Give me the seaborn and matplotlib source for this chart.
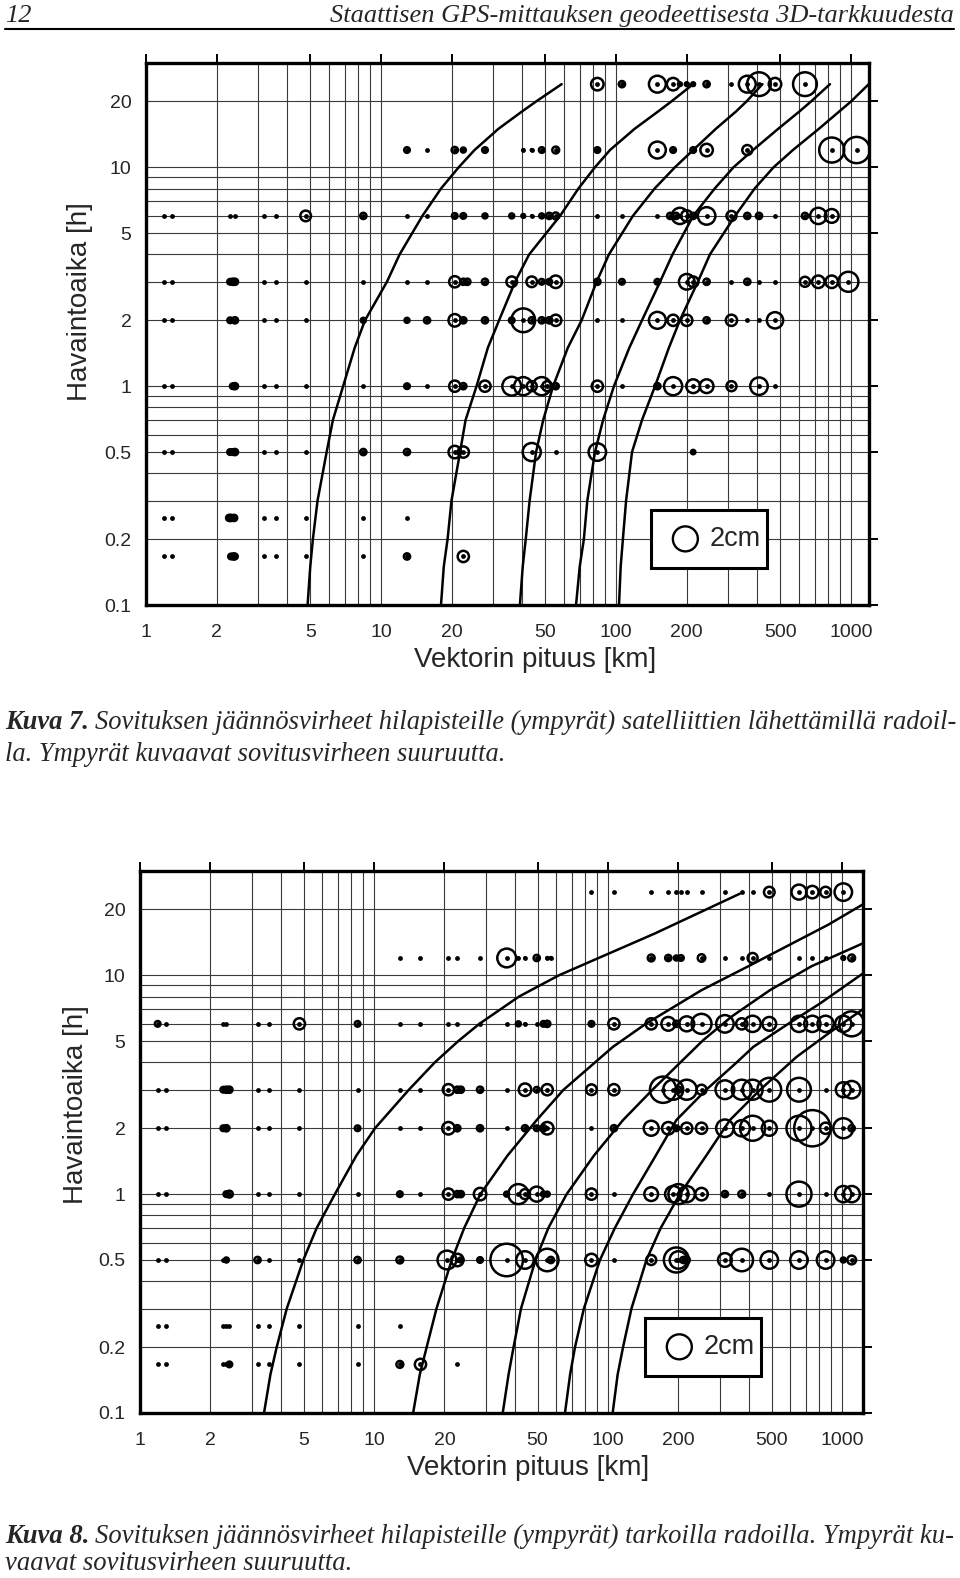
import numpy as np
import pandas as pd
import matplotlib
matplotlib.use("Agg")
import matplotlib.pyplot as plt
import matplotlib.ticker as mticker
from matplotlib.patches import Rectangle
from matplotlib.lines import Line2D
import seaborn as sns

# ---------------------------------------------------------
# Data: (vector length km, residual cm) per observation-time row
# ---------------------------------------------------------
row_times = [24, 12, 6, 3, 2, 1, 0.5, 0.25, 1 / 6]

# Kuva 7 (broadcast orbits)
k7_24h = [(83.3, 1.0), (106, 0.5), (150, 1.35), (175, 1.0), (187, 0.3), (200, 0.3), (213, 0.3),
          (243, 0.5), (310, 0.0), (362, 1.35), (406, 1.9), (475, 1.0), (637, 1.9)]
k7_12h = [(12.9, 0.45), (15.7, 0), (20.6, 0.5), (22.4, 0.4), (27.7, 0.45), (40.3, 0.15), (43.8, 0.15),
          (48.3, 0.45), (55.4, 0.55), (83.3, 0.45), (150, 1.35), (175, 0.45), (213, 0.45), (243, 1.0),
          (362, 0.8), (828, 2.0), (1057, 2.1)]
k7_6h = [(1.19, 0), (1.29, 0), (2.28, 0), (2.39, 0), (3.18, 0), (3.57, 0), (4.78, 0.85), (8.41, 0.5),
         (12.9, 0), (15.7, 0), (20.6, 0.45), (22.4, 0.45), (27.7, 0.4), (36, 0.4), (40.3, 0.3),
         (43.8, 0.1), (48.3, 0.4), (52, 0.5), (55.4, 0.55), (83.3, 0), (106, 0), (150, 0), (170, 0.5),
         (180, 0.5), (187, 1.3), (200, 0.9), (213, 0.5), (243, 1.4), (310, 0.8), (362, 0.5),
         (406, 0.5), (475, 0), (637, 0.5), (726, 1.3), (828, 1.1)]
k7_3h = [(1.19, 0), (1.29, 0), (2.28, 0.45), (2.34, 0.5), (2.39, 0.5), (3.18, 0), (3.57, 0), (4.78, 0),
         (8.41, 0), (12.9, 0), (15.7, 0), (20.6, 0.9), (22.4, 0.5), (23.3, 0.5), (27.7, 0.5), (36, 0.85),
         (43.8, 0.85), (48.3, 0.45), (52, 0.45), (55.4, 1.0), (83.3, 0.5), (106, 0.45), (150, 0.45),
         (200, 1.25), (213, 0.85), (243, 0.5), (310, 0), (362, 0.5), (406, 0), (475, 0), (637, 0.8),
         (726, 1.0), (828, 1.0), (975, 1.6)]
k7_2h = [(1.19, 0), (1.29, 0), (2.28, 0.45), (2.39, 0.5), (3.18, 0), (3.57, 0), (4.78, 0), (8.41, 0.4),
         (12.9, 0.4), (15.7, 0.5), (20.6, 1.0), (22.4, 0.5), (27.7, 0.5), (36, 0.45), (40.3, 1.9),
         (43.8, 0.5), (48.3, 0.5), (52, 0.5), (55.4, 0.9), (83.3, 0), (106, 0), (150, 1.35), (175, 0.9),
         (200, 0.9), (243, 0.5), (310, 0.9), (362, 0), (406, 0), (475, 1.3)]
k7_1h = [(1.19, 0), (1.29, 0), (2.34, 0.45), (2.39, 0.5), (3.18, 0), (3.57, 0), (4.78, 0), (8.41, 0),
         (12.9, 0.45), (15.7, 0), (20.6, 0.9), (22.4, 0.5), (27.7, 0.9), (36, 1.5), (40.3, 1.45),
         (43.8, 0.8), (48.3, 1.45), (51, 0.8), (55.4, 0.5), (83.3, 0.9), (106, 0), (150, 0.5),
         (175, 1.45), (213, 1.1), (243, 1.1), (310, 0.8), (406, 1.4), (475, 0)]
k7_05h = [(1.19, 0), (1.29, 0), (2.28, 0.45), (2.34, 0.45), (2.39, 0.5), (3.18, 0), (3.57, 0), (4.78, 0),
          (8.41, 0.5), (12.9, 0.5), (20.6, 1.0), (22.4, 0.9), (43.8, 1.45), (55.4, 0), (83.3, 1.4),
          (213, 0.35)]
k7_025h = [(1.19, 0), (1.29, 0), (2.26, 0.5), (2.3, 0.5), (2.37, 0.5), (3.18, 0), (3.57, 0), (4.78, 0),
           (8.41, 0), (12.9, 0)]
k7_10min = [(1.19, 0), (1.29, 0), (2.3, 0.45), (2.36, 0.5), (2.39, 0.45), (3.18, 0), (3.57, 0),
            (4.78, 0), (8.41, 0), (12.9, 0.5), (22.4, 0.9)]

# Kuva 8 (precise orbits)
k8_24h = [(85, 0), (106, 0), (153, 0), (181, 0), (196, 0), (205, 0), (217, 0), (251, 0), (316, 0),
          (373, 0), (415, 0), (489, 0.85), (655, 1.2), (747, 1.0), (851, 0.85), (1013, 1.4)]
k8_12h = [(12.9, 0), (15.8, 0), (20.8, 0), (22.7, 0), (28.4, 0), (36.9, 1.5), (41.4, 0.1), (44.2, 0.1),
          (49.6, 0.5), (55, 0.15), (57, 0.15), (153, 0.55), (181, 0.5), (196, 0.4), (205, 0.45),
          (251, 0.6), (316, 0), (373, 0), (415, 0.8), (489, 0), (655, 0), (747, 0), (851, 0),
          (1013, 0.3), (1100, 0.55)]
k8_6h = [(1.19, 0.45), (1.29, 0), (2.27, 0), (2.34, 0), (3.18, 0), (3.57, 0), (4.8, 0.9), (8.51, 0.45),
         (12.9, 0), (15.8, 0), (20.8, 0), (22.7, 0), (28.4, 0), (36.9, 0), (41.4, 0.4), (44.2, 0.1),
         (49.6, 0), (53, 0.45), (55, 0.5), (85, 0.45), (106, 0.9), (153, 0.9), (181, 1.1), (196, 0.5),
         (217, 1.2), (251, 1.6), (316, 1.4), (373, 0.9), (415, 1.3), (489, 1.1), (655, 1.3),
         (747, 1.3), (851, 1.3), (1013, 1.3), (1100, 2.0)]
k8_3h = [(1.19, 0), (1.29, 0), (2.27, 0.45), (2.34, 0.5), (2.41, 0.5), (3.18, 0), (3.57, 0), (4.8, 0),
         (8.51, 0), (12.9, 0), (15.8, 0), (20.8, 0.9), (22.7, 0.5), (23.5, 0.5), (28.4, 0.5), (36.9, 0),
         (44.2, 1.0), (49.6, 0.45), (55, 0.9), (85, 0.85), (106, 0.9), (172, 2.1), (190, 1.6),
         (200, 0.5), (217, 1.6), (251, 0.8), (316, 1.5), (373, 1.6), (415, 1.6), (489, 1.9),
         (655, 1.9), (851, 0), (1013, 1.2), (1100, 1.4)]
k8_2h = [(1.19, 0), (1.29, 0), (2.27, 0.45), (2.34, 0.5), (3.18, 0), (3.57, 0), (4.8, 0), (8.51, 0.45),
         (12.9, 0), (15.8, 0), (20.8, 1.0), (22.7, 0.5), (28.4, 0.5), (36.9, 0), (44.2, 0.5),
         (49.6, 0.45), (53, 0.5), (55, 1.0), (85, 0), (106, 0.5), (153, 1.2), (181, 1.0), (196, 0.45),
         (217, 0.9), (251, 0.9), (316, 1.4), (373, 1.3), (415, 2.0), (489, 1.2), (655, 2.0),
         (747, 2.9), (851, 0.9), (1013, 1.6), (1100, 0.5)]
k8_1h = [(1.19, 0), (1.29, 0), (2.34, 0.45), (2.41, 0.55), (3.18, 0), (3.57, 0), (4.8, 0), (8.51, 0),
         (12.9, 0.45), (15.8, 0), (20.8, 0.9), (22.7, 0.5), (23.5, 0.5), (28.4, 1.0), (36.9, 0.4),
         (41.4, 1.6), (44.2, 0.8), (49.6, 1.2), (53, 0.4), (55, 0.4), (85, 0.9), (106, 0), (153, 1.1),
         (190, 1.3), (200, 1.6), (217, 1.3), (251, 1.0), (316, 0.5), (373, 0.55), (489, 0),
         (655, 2.0), (851, 0), (1013, 1.3), (1100, 1.3)]
k8_05h = [(1.19, 0), (1.29, 0), (2.27, 0), (2.34, 0.4), (3.18, 0.5), (3.57, 0), (4.8, 0), (8.51, 0.5),
          (12.9, 0.55), (20.5, 1.5), (22.7, 1.0), (23.5, 0.4), (28.4, 0.45), (36.9, 2.6), (44.2, 1.4),
          (55, 1.8), (57, 0.5), (85, 1.0), (106, 0), (153, 0.8), (196, 2.0), (200, 1.4), (210, 0.5),
          (217, 0.5), (316, 1.1), (373, 1.8), (489, 1.4), (655, 1.4), (851, 1.4), (1013, 0.4),
          (1100, 0.7)]
k8_025h = [(1.19, 0), (1.29, 0), (2.27, 0), (2.34, 0), (2.41, 0), (3.18, 0), (3.57, 0), (4.8, 0),
           (8.51, 0), (12.9, 0)]
k8_10min = [(1.19, 0), (1.29, 0), (2.27, 0), (2.34, 0), (2.41, 0.45), (3.18, 0), (3.57, 0), (4.8, 0),
            (8.51, 0), (12.9, 0.55), (15.8, 0.9), (22.7, 0)]

k7_curve_t = [0.1, 0.15, 0.2, 0.3, 0.5, 0.7, 1, 1.5, 2, 3, 4, 6, 8, 10, 12, 15, 18, 20, 24]
k7_curve_a = [4.87, 5.0, 5.13, 5.37, 5.87, 6.24, 6.9, 7.73, 8.55, 10.6, 12.0, 15.0, 18.0, 21.4,
              25.0, 31.6, 39.8, 45.7, 58.7]
k7_curve_b = [18.0, 18.5, 19.2, 19.95, 21.7, 22.9, 25.5, 28.5, 31.8, 37.2, 42.7, 57.8, 69.2, 81.3,
              94.3, 120, 151, 172, 213]
k7_curve_c = [39, 40.1, 41.3, 42.9, 45.7, 49, 54, 62.4, 71.4, 82.7, 93.3, 118, 146, 178, 213, 266,
              324, 359, 420]
k7_curve_d = [67.6, 70.1, 73, 75.5, 81.4, 88.1, 98, 114, 129, 154, 174, 213, 263, 316, 383, 490,
              603, 676, 814]
k7_curve_e = [103, 104.7, 107, 110.4, 117, 129, 146.6, 168, 187, 223, 251, 321, 389, 468, 566, 730,
              891, 1000, 1190]

k8_curve_a_t = [0.1, 0.15, 0.2, 0.3, 0.5, 0.7, 1, 1.5, 2, 3, 4, 5, 6, 8, 10, 12, 15.5, 20, 23.6]
k8_curve_a = [3.39, 3.61, 3.84, 4.24, 4.99, 5.69, 6.81, 8.41, 10.1, 14.1, 18.2, 22.9, 28.2, 41.7,
              61.7, 91.2, 158, 263, 366]
k8_curve_b_t = [0.1, 0.15, 0.2, 0.3, 0.5, 0.7, 1, 1.5, 2.18, 3, 4.71, 6, 8.55, 11, 13.5, 17, 21.1]
k8_curve_b = [14.7, 15.7, 16.8, 18.5, 21.5, 24.3, 28.5, 37.2, 49.6, 64.6, 105, 145, 251, 398, 575,
              871, 1229]
k8_curve_c_t = [0.1, 0.15, 0.2, 0.3, 0.5, 0.7, 1, 1.5, 2.18, 3, 4, 5.05, 6.5, 8.55, 11, 14.0]
k8_curve_c = [35.5, 37.6, 39.5, 42.5, 49.0, 55.6, 66.6, 87.1, 116, 155, 204, 255, 339, 492, 741, 1229]
k8_curve_d_t = [0.1, 0.15, 0.2, 0.3, 0.5, 0.7, 1, 1.5, 2.18, 3, 4, 4.71, 6, 7.43, 10.2]
k8_curve_d = [65.5, 68.9, 72.3, 78.9, 92.4, 107, 128, 160, 196, 263, 355, 418, 589, 805, 1229]
k8_curve_e_t = [0.1, 0.15, 0.2, 0.3, 0.5, 0.7, 1, 1.5, 2.18, 3, 4.24, 5.5, 7.0]
k8_curve_e = [104.7, 110, 116, 126, 146, 168, 203, 263, 332, 447, 640, 891, 1229]

x_ticks = [1, 2, 5, 10, 20, 50, 100, 200, 500, 1000]
x_ticklabels = ["1", "2", "5", "10", "20", "50", "100", "200", "500", "1000"]
y_ticks = [0.1, 0.2, 0.5, 1, 2, 5, 10, 20]
y_ticklabels = ["0.1", "0.2", "0.5", "1", "2", "5", "10", "20"]

CM_TO_S = 81.0   # marker area per cm^2 (2 cm ring = legend ring)


def rows_to_frame(rows):
    recs = []
    for t, pts in zip(row_times, rows):
        for length, res in pts:
            recs.append((length, t, res))
    df = pd.DataFrame(recs, columns=["pituus", "aika", "virhe"])
    df["ala"] = CM_TO_S * df["virhe"] ** 2
    return df


def draw_panel(ax, df, curves, xmax):
    ax.set_xscale("log")
    ax.set_yscale("log")
    ax.set_xlim(1, xmax)
    ax.set_ylim(0.1, 30)

    ax.xaxis.set_major_locator(mticker.FixedLocator(x_ticks))
    ax.xaxis.set_major_formatter(mticker.FixedFormatter(x_ticklabels))
    ax.xaxis.set_minor_locator(mticker.LogLocator(base=10, subs=np.arange(1, 10), numticks=30))
    ax.xaxis.set_minor_formatter(mticker.NullFormatter())
    ax.yaxis.set_major_locator(mticker.FixedLocator(y_ticks))
    ax.yaxis.set_major_formatter(mticker.FixedFormatter(y_ticklabels))
    ax.yaxis.set_minor_locator(mticker.LogLocator(base=10, subs=np.arange(1, 10), numticks=30))
    ax.yaxis.set_minor_formatter(mticker.NullFormatter())

    ax.set_axisbelow(True)
    ax.grid(which="both", color="#3a3a3a", linewidth=0.8)
    ax.tick_params(which="major", direction="out", length=6.5, width=1.4, color="black",
                   top=True, right=True, labelsize=14)
    ax.tick_params(axis="x", which="major", pad=7.5)
    ax.tick_params(axis="y", which="major", pad=4)
    ax.tick_params(which="minor", length=0)
    for sp in ax.spines.values():
        sp.set_linewidth(2.4)
        sp.set_color("black")

    # curves
    for cx, cy in curves:
        sns.lineplot(x=cx, y=cy, ax=ax, color="black", linewidth=1.8,
                     sort=False, estimator=None, zorder=3)

    # residual rings
    rings = df[df["virhe"] > 0]
    sns.scatterplot(data=rings, x="pituus", y="aika", s=rings["ala"].to_numpy(), ax=ax,
                    facecolor="none", edgecolor="black", linewidth=1.8, zorder=4, legend=False)
    # grid point centres
    sns.scatterplot(data=df, x="pituus", y="aika", s=12, color="black", linewidth=0,
                    ax=ax, zorder=5, legend=False)

    # 2 cm scale box
    ax.add_patch(Rectangle((0.698, 0.069), 0.161, 0.106, transform=ax.transAxes,
                           facecolor="white", edgecolor="black", linewidth=2.2, zorder=6))
    ax.scatter([0.746], [0.122], s=CM_TO_S * 2 ** 2, transform=ax.transAxes,
               facecolor="none", edgecolor="black", linewidth=1.7, zorder=7)
    ax.text(0.779, 0.122, "2cm", transform=ax.transAxes, fontsize=19.5,
            ha="left", va="center", zorder=7)

    ax.set_xlabel("Vektorin pituus [km]", fontsize=20)
    ax.set_ylabel("Havaintoaika [h]", fontsize=20)


sns.set_theme(style="white")
plt.rcParams["font.family"] = ["Liberation Sans", "DejaVu Sans"]

fig = plt.figure(figsize=(9.6, 15.78), dpi=100)

ax7 = fig.add_axes([0.1521, 0.6166, 0.7531, 0.3435])
draw_panel(ax7, rows_to_frame([k7_24h, k7_12h, k7_6h, k7_3h, k7_2h, k7_1h, k7_05h, k7_025h, k7_10min]),
           [(k7_curve_a, k7_curve_t), (k7_curve_b, k7_curve_t), (k7_curve_c, k7_curve_t),
            (k7_curve_d, k7_curve_t), (k7_curve_e, k7_curve_t)], 1193)
ax7.xaxis.set_label_coords(0.538, -0.077)
ax7.yaxis.set_label_coords(-0.074, 0.559)

ax8 = fig.add_axes([0.1458, 0.1046, 0.7531, 0.3435])
draw_panel(ax8, rows_to_frame([k8_24h, k8_12h, k8_6h, k8_3h, k8_2h, k8_1h, k8_05h, k8_025h, k8_10min]),
           [(k8_curve_a, k8_curve_a_t), (k8_curve_b, k8_curve_b_t), (k8_curve_c, k8_curve_c_t),
            (k8_curve_d, k8_curve_d_t), (k8_curve_e, k8_curve_e_t)], 1229)
ax8.xaxis.set_label_coords(0.537, -0.077)
ax8.yaxis.set_label_coords(-0.071, 0.568)

# page header
W, H = 960, 1578
serif = ["Liberation Serif", "DejaVu Serif"]
fig.text(5 / W, 1 - 22 / H, "12", fontsize=19, style="italic", family=serif, va="baseline")
fig.text(954 / W, 1 - 22 / H, "Staattisen GPS-mittauksen geodeettisesta 3D-tarkkuudesta",
         fontsize=19, style="italic", family=serif, ha="right", va="baseline")
fig.add_artist(Line2D([5 / W, 954 / W], [1 - 29 / H, 1 - 29 / H], color="black", linewidth=1.5))

# captions
renderer = fig.canvas.get_renderer()


def caption(lines, head, y_first, step, size):
    t = fig.text(5 / W, 1 - y_first / H, head, fontsize=size, style="italic", weight="bold",
                 family=serif, va="baseline")
    x_end = t.get_window_extent(renderer).x1
    fig.text((x_end + 6) / W, 1 - y_first / H, lines[0], fontsize=size, style="italic",
             family=serif, va="baseline")
    for i, line in enumerate(lines[1:], start=1):
        fig.text(5 / W, 1 - (y_first + i * step) / H, line, fontsize=size, style="italic",
                 family=serif, va="baseline")


caption(["Sovituksen jäännösvirheet hilapisteille (ympyrät) satelliittien lähettämillä radoil-",
         "la. Ympyrät kuvaavat sovitusvirheen suuruutta."], "Kuva 7.", 729, 32, 19.1)
caption(["Sovituksen jäännösvirheet hilapisteille (ympyrät) tarkoilla radoilla. Ympyrät ku-",
         "vaavat sovitusvirheen suuruutta."], "Kuva 8.", 1543, 27, 19.2)

fig.savefig("out.png", dpi=100)
